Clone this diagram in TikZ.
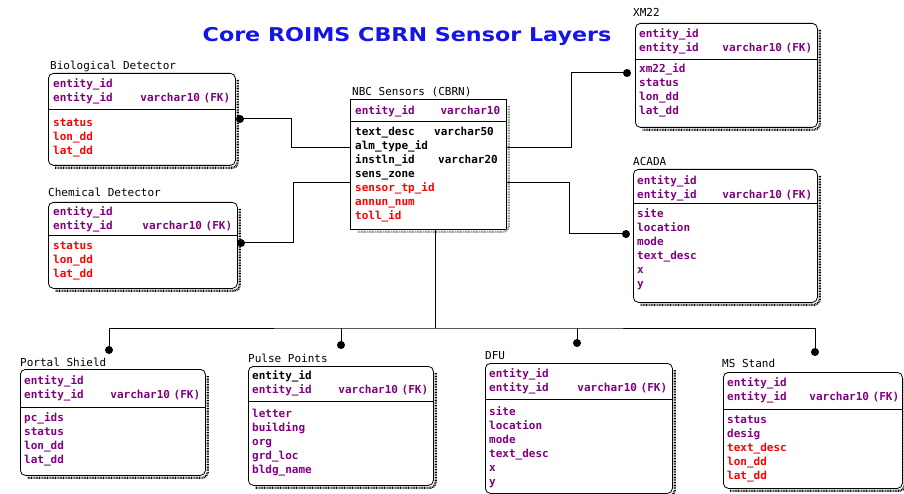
\documentclass[tikz,border=0pt]{standalone}
\usepackage{fontspec}
\usepackage{graphicx}
\setmainfont{DejaVu Sans Mono}
\newfontfamily\titlefont{DejaVu Sans}
\definecolor{pur}{RGB}{128,0,128}
\definecolor{rd}{RGB}{255,0,0}
\definecolor{ttl}{RGB}{20,20,230}
\newcommand\entshadow[2][black]{%
  \draw[shadowline,#1] ([shift={(1.9pt,-7pt)}]#2.north east) -- ([shift={(1.9pt,-1.9pt)}]#2.south east) -- ([shift={(7pt,-1.9pt)}]#2.south west);}
\begin{document}
\begin{tikzpicture}[x=1pt,y=-1pt,
  every node/.style={inner sep=0pt, font=\fontsize{11}{14}\selectfont},
  ent/.style={draw, line width=0.8pt, rounded corners=5pt, anchor=north west},
  tbl/.style={draw, line width=0.8pt, anchor=north west},
  rows/.style={anchor=north west, align=left, text width=#1, font=\fontsize{11}{14}\selectfont\bfseries},
  etitle/.style={anchor=base west},
  conn/.style={line width=1pt},
  shadowline/.style={line width=2.2pt, dash pattern=on 0.8pt off 0.8pt, rounded corners=5pt},
  divider/.style={line width=0.8pt}]
\useasboundingbox (0,0) rectangle (904,494);

% title
\node[font=\titlefont\bfseries\fontsize{19}{22}\selectfont, text=ttl] (title) at (407,37) {\scalebox{1.17}[1]{Core ROIMS CBRN Sensor Layers}};

% Biological Detector
\node[ent, minimum width=187pt, minimum height=92pt] (bio) at (48,73) {};
\entshadow{bio}
\draw[divider] (bio.west |- 0,109) -- (bio.east |- 0,109);
\node[etitle] (biot) at (50,70) {Biological Detector};
\node[rows=177pt] (bioh) at (53,77.2) {\color{pur}\strut entity\_id\\ entity\_id\hfill varchar10 (FK)};
\node[rows=177pt] (biob) at (53,116.2) {\color{rd}\strut status\\ lon\_dd\\ lat\_dd};

% Chemical Detector
\node[ent, minimum width=189pt, minimum height=86pt] (chem) at (48,202) {};
\entshadow{chem}
\draw[divider] (chem.west |- 0,235) -- (chem.east |- 0,235);
\node[etitle] (chemt) at (48,197) {Chemical Detector};
\node[rows=179pt] (chemh) at (53,205.2) {\color{pur}\strut entity\_id\\ entity\_id\hfill varchar10 (FK)};
\node[rows=179pt] (chemb) at (53,239.2) {\color{rd}\strut status\\ lon\_dd\\ lat\_dd};

% NBC Sensors
\node[tbl, minimum width=156pt, minimum height=130pt] (nbc) at (350,99) {};
\entshadow[gray]{nbc}
\draw[divider] (nbc.west |- 0,121) -- (nbc.east |- 0,121);
\node[etitle] (nbct) at (352,96) {NBC Sensors (CBRN)};
\node[rows=145pt] (nbch) at (355,104.2) {\color{pur}\strut entity\_id\hfill varchar10};
\node[rows=145pt] (nbcb) at (355,125.2) {\strut\makebox[79pt][l]{text\_desc}varchar50\\ alm\_type\_id\\ \makebox[83pt][l]{instln\_id}varchar20\\ sens\_zone\\ \color{rd}sensor\_tp\_id\\ annun\_num\\ toll\_id};

% XM22
\node[ent, minimum width=182pt, minimum height=104pt] (xm) at (635,23) {};
\entshadow{xm}
\draw[divider] (xm.west |- 0,59) -- (xm.east |- 0,59);
\node[etitle] (xmt) at (633,17) {XM22};
\node[rows=173pt] (xmh) at (639,27.2) {\color{pur}\strut entity\_id\\ entity\_id\hfill varchar10 (FK)};
\node[rows=173pt] (xmb) at (639,62.2) {\color{pur}\strut xm22\_id\\ status\\ lon\_dd\\ lat\_dd};

% ACADA
\node[ent, minimum width=184pt, minimum height=133pt] (acada) at (633,169) {};
\entshadow{acada}
\draw[divider] (acada.west |- 0,203) -- (acada.east |- 0,203);
\node[etitle] (acadat) at (633,166) {ACADA};
\node[rows=175pt] (acadah) at (637,174.2) {\color{pur}\strut entity\_id\\ entity\_id\hfill varchar10 (FK)};
\node[rows=175pt] (acadab) at (637,207.2) {\color{pur}\strut site\\ location\\ mode\\ text\_desc\\ x\\ y};

% Portal Shield
\node[ent, minimum width=185pt, minimum height=106pt] (portal) at (20,369) {};
\entshadow{portal}
\draw[divider] (portal.west |- 0,407) -- (portal.east |- 0,407);
\node[etitle] (portalt) at (20,366) {Portal Shield};
\node[rows=176pt] (portalh) at (24,374.2) {\color{pur}\strut entity\_id\\ entity\_id\hfill varchar10 (FK)};
\node[rows=176pt] (portalb) at (24,411.2) {\color{pur}\strut pc\_ids\\ status\\ lon\_dd\\ lat\_dd};

% Pulse Points
\node[ent, minimum width=185pt, minimum height=119pt] (pulse) at (248,366) {};
\entshadow{pulse}
\draw[divider] (pulse.west |- 0,401) -- (pulse.east |- 0,401);
\node[etitle] (pulset) at (248,362) {Pulse Points};
\node[rows=176pt] (pulseh) at (252,369.2) {\strut entity\_id\\ \color{pur}entity\_id\hfill varchar10 (FK)};
\node[rows=176pt] (pulseb) at (252,407.2) {\color{pur}\strut letter\\ building\\ org\\ grd\_loc\\ bldg\_name};

% DFU
\node[ent, minimum width=187pt, minimum height=130pt] (dfu) at (485,363) {};
\entshadow{dfu}
\draw[divider] (dfu.west |- 0,399) -- (dfu.east |- 0,399);
\node[etitle] (dfut) at (485,359) {DFU};
\node[rows=178pt] (dfuh) at (489,367.2) {\color{pur}\strut entity\_id\\ entity\_id\hfill varchar10 (FK)};
\node[rows=178pt] (dfub) at (489,405.2) {\color{pur}\strut site\\ location\\ mode\\ text\_desc\\ x\\ y};

% MS Stand
\node[ent, minimum width=179pt, minimum height=116pt] (ms) at (723,372) {};
\entshadow{ms}
\draw[divider] (ms.west |- 0,409) -- (ms.east |- 0,409);
\node[etitle] (mst) at (722,367) {MS Stand};
\node[rows=172pt] (msh) at (727,376.2) {\color{pur}\strut entity\_id\\ entity\_id\hfill varchar10 (FK)};
\node[rows=172pt] (msb) at (727,413.2) {\color{pur}\strut status\\ desig\\ \color{rd}text\_desc\\ lon\_dd\\ lat\_dd};

% connector end points
\coordinate (dbio) at (240,119);
\coordinate (dchem) at (241,243);
\coordinate (dxm) at (627,73);
\coordinate (dacada) at (626,234);
\coordinate (dportal) at (109,350);
\coordinate (dpulse) at (341,345);
\coordinate (ddfu) at (577,343);
\coordinate (dms) at (815,352);
\coordinate (bus) at (435,328);

% connectors
\draw[conn] (nbc.west |- 0,148) -- (291,148) |- (dbio);
\draw[conn] (nbc.west |- 0,183) -- (293,183) |- (dchem);
\draw[conn] (nbc.east |- 0,148) -- (571,148) |- (dxm);
\draw[conn] (nbc.east |- 0,183) -- (569,183) |- (dacada);
\draw[conn] (nbc.south -| bus) -- (bus);
\draw[conn] (dportal) |- (bus) -| (dms);
\draw[conn] (dpulse) -- (dpulse |- bus);
\draw[conn] (ddfu) -- (ddfu |- bus);
\foreach \d in {dbio,dchem,dxm,dacada,dportal,dpulse,ddfu,dms} \fill (\d) circle (4pt);
\end{tikzpicture}
\end{document}
